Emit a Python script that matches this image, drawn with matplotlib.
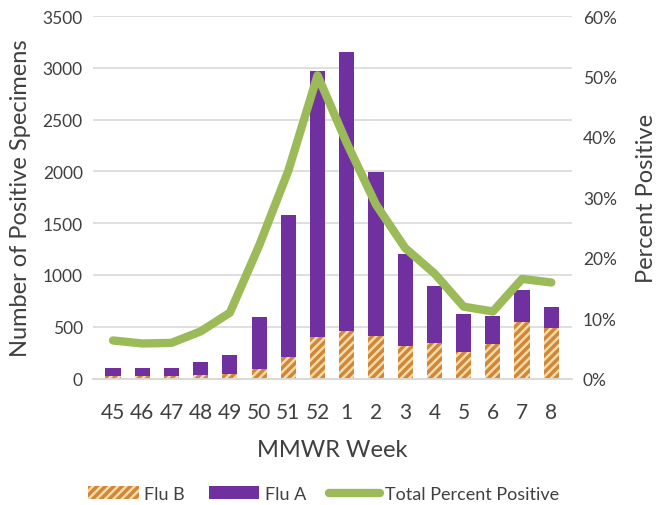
import matplotlib.pyplot as plt
import numpy as np

plt.rcParams['font.family'] = ['Lato', 'DejaVu Sans']
plt.rcParams['hatch.linewidth'] = 2.5

weeks = ['45', '46', '47', '48', '49', '50', '51', '52', '1', '2', '3', '4', '5', '6', '7', '8']
total_pos = [100, 105, 105, 155, 230, 590, 1580, 2970, 3150, 1995, 1205, 895, 625, 605, 855, 695]
flu_b = [20, 20, 20, 30, 40, 90, 210, 400, 460, 410, 310, 340, 260, 330, 545, 490]
flu_a = [t - b for t, b in zip(total_pos, flu_b)]
pct_pos = [6.3, 5.8, 5.9, 7.8, 10.9, 22.0, 34.4, 50.2, 39.0, 28.8, 21.6, 17.4, 11.9, 11.1, 16.5, 15.9]

x = np.arange(len(weeks))
fig = plt.figure(figsize=(6.61, 5.06), dpi=100)
ax = fig.add_axes([0.14, 0.25, 0.725, 0.716])
ax2 = ax.twinx()

ax.set_axisbelow(True)
ax.yaxis.grid(True, color='#D9D9D9', lw=1.2)
bb = ax.bar(x, flu_b, width=0.52, color='#F7DCAA', edgecolor='#D0873A', hatch='////',
            lw=0, label='Flu B')
ba = ax.bar(x, flu_a, width=0.52, bottom=flu_b, color='#7030A0', lw=0, label='Flu A')
ln, = ax2.plot(x, pct_pos, color='#9BBB59', lw=6, solid_capstyle='round',
               solid_joinstyle='round', label='Total Percent Positive')

ax.set_xlim(-0.7, len(weeks) - 0.3)
ax.set_ylim(0, 3500)
ax.set_yticks(range(0, 3501, 500))
ax2.set_ylim(0, 60)
ax2.set_yticks(range(0, 61, 10))
ax2.set_yticklabels([f'{v}%' for v in range(0, 61, 10)])
ax.set_xticks(x)
ax.set_xticklabels(weeks, fontsize=15, color='#404040')
ax.tick_params(axis='y', labelsize=12.5, colors='#404040', length=0, pad=7)
ax2.tick_params(axis='y', labelsize=12.5, colors='#404040', length=0, pad=8)
ax.tick_params(axis='x', length=0, pad=17)

for a in (ax, ax2):
    for s in ('top', 'left', 'right'):
        a.spines[s].set_visible(False)
    a.spines['bottom'].set_color('#D9D9D9')
    a.spines['bottom'].set_linewidth(1.2)

ax.set_ylabel('Number of Positive Specimens', fontsize=17, color='#404040', labelpad=8)
ax2.set_ylabel('Percent Positive', fontsize=17, color='#404040', labelpad=14)
ax.set_xlabel('MMWR Week', fontsize=17, color='#404040', labelpad=12)

fig.legend(handles=[bb, ba, ln], loc='center', bbox_to_anchor=(0.49, 0.022),
           ncol=3, frameon=False, fontsize=13, handlelength=2.8, columnspacing=1.3,
           handletextpad=0.3, labelcolor='#404040')

fig.savefig('out.png', dpi=100)
